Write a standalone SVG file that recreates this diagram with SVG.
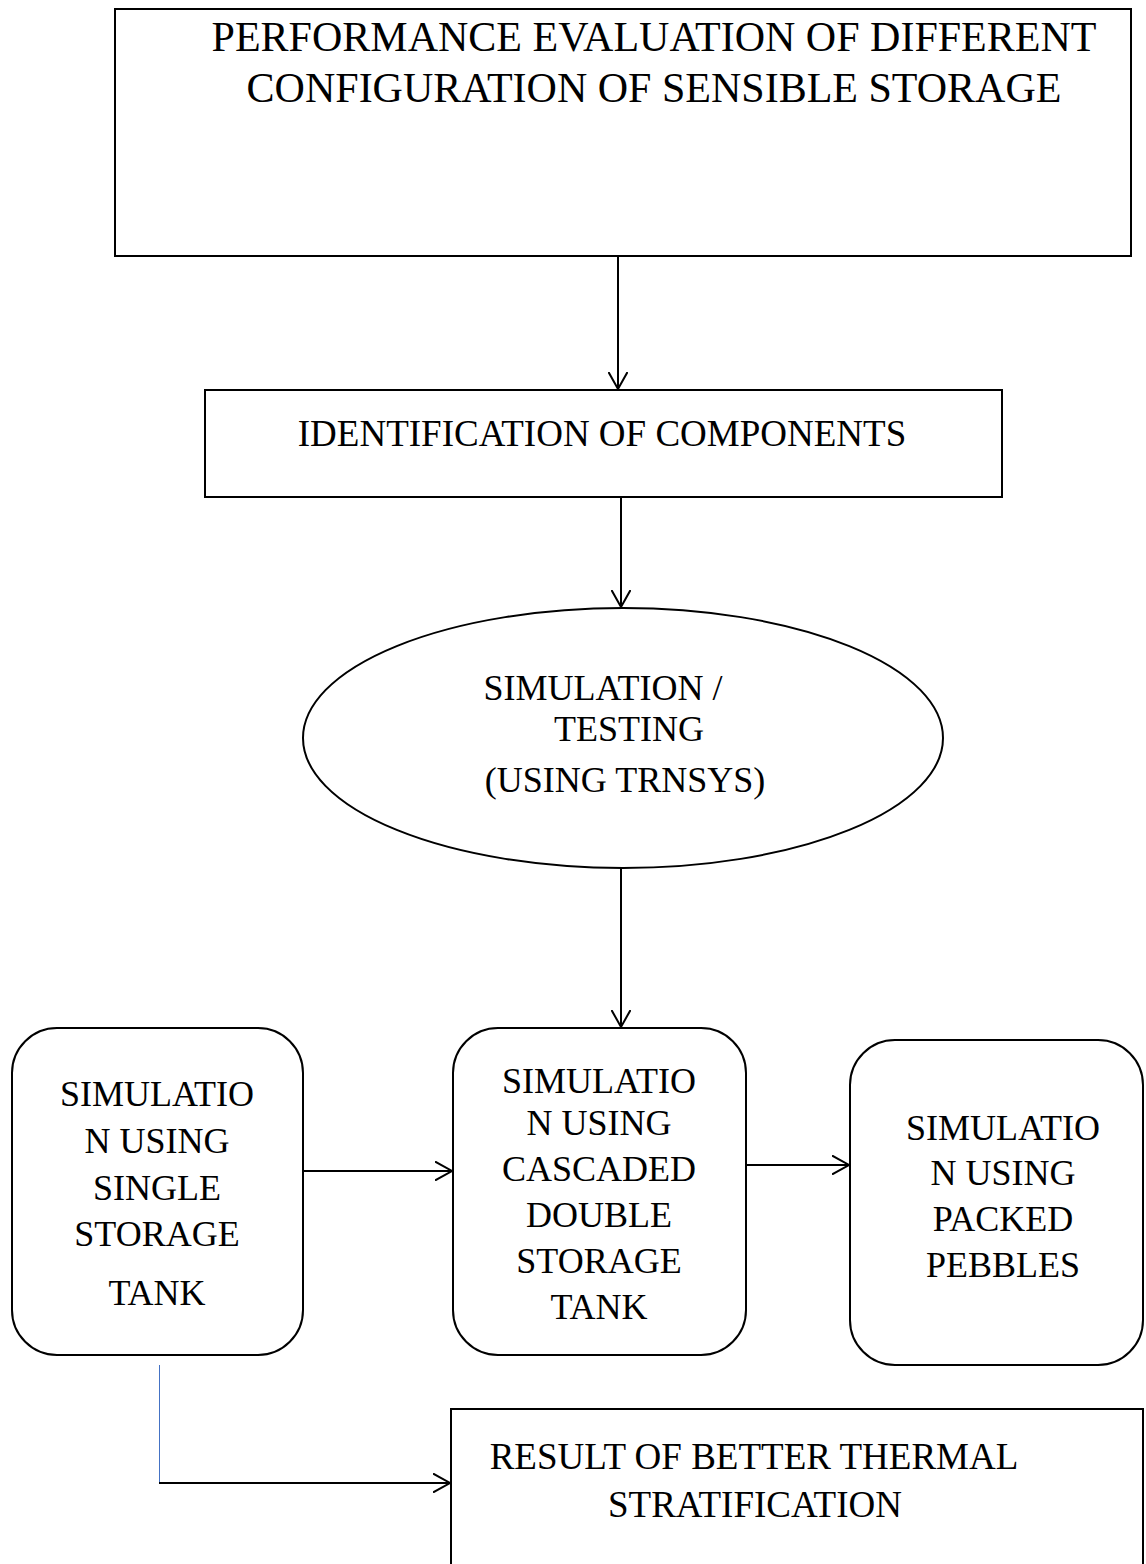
<svg xmlns="http://www.w3.org/2000/svg" width="1146" height="1564" viewBox="0 0 1146 1564">
<style>
.box{fill:#fff;stroke:#000;stroke-width:2}
.t{font-family:"Liberation Serif","Times New Roman",serif;font-size:36px;fill:#000;text-anchor:middle}
.c{fill:none;stroke:#000;stroke-width:2}
</style>
<defs>
<marker id="ah" markerWidth="20" markerHeight="20" refX="17" refY="10" orient="auto" markerUnits="userSpaceOnUse">
<path d="M0,0.5 L17,10 L0,19.5" fill="none" stroke="#000" stroke-width="2"/>
</marker>
</defs>
<rect width="1146" height="1564" fill="#fff"/>
<g id="n1">
<rect class="box" x="115" y="9" width="1016" height="247"/>
<text class="t" style="font-size:42px" x="654" y="51">PERFORMANCE EVALUATION OF DIFFERENT</text>
<text class="t" style="font-size:42px" x="654" y="102">CONFIGURATION OF SENSIBLE STORAGE</text>
</g>
<g id="n2">
<rect class="box" x="205" y="390" width="797" height="107"/>
<text class="t" style="font-size:37px" x="602" y="446">IDENTIFICATION OF COMPONENTS</text>
</g>
<g id="n3">
<ellipse class="box" cx="623" cy="738" rx="320" ry="130"/>
<text class="t" x="603" y="700">SIMULATION /</text>
<text class="t" x="629" y="741">TESTING</text>
<text class="t" x="625" y="792">(USING TRNSYS)</text>
</g>
<g id="n4">
<rect class="box" x="12" y="1028" width="291" height="327" rx="45"/>
<text class="t" x="157" y="1106">SIMULATIO</text>
<text class="t" x="157" y="1153">N USING</text>
<text class="t" x="157" y="1200">SINGLE</text>
<text class="t" x="157" y="1246">STORAGE</text>
<text class="t" x="157" y="1305">TANK</text>
</g>
<g id="n5">
<rect class="box" x="453" y="1028" width="293" height="327" rx="45"/>
<text class="t" x="599" y="1093">SIMULATIO</text>
<text class="t" x="599" y="1135">N USING</text>
<text class="t" x="599" y="1181">CASCADED</text>
<text class="t" x="599" y="1227">DOUBLE</text>
<text class="t" x="599" y="1273">STORAGE</text>
<text class="t" x="599" y="1319">TANK</text>
</g>
<g id="n6">
<rect class="box" x="850" y="1040" width="293" height="325" rx="45"/>
<text class="t" x="1003" y="1140">SIMULATIO</text>
<text class="t" x="1003" y="1185">N USING</text>
<text class="t" x="1003" y="1231">PACKED</text>
<text class="t" x="1003" y="1277">PEBBLES</text>
</g>
<g id="n7">
<rect class="box" x="451" y="1409" width="692" height="170"/>
<text class="t" style="font-size:37px" x="754" y="1469">RESULT OF BETTER THERMAL</text>
<text class="t" style="font-size:37px" x="755" y="1517">STRATIFICATION</text>
</g>
<g id="connectors">
<line class="c" x1="618" y1="256" x2="618" y2="389" marker-end="url(#ah)"/>
<line class="c" x1="621" y1="497" x2="621" y2="607" marker-end="url(#ah)"/>
<line class="c" x1="621" y1="868" x2="621" y2="1027" marker-end="url(#ah)"/>
<line class="c" x1="303" y1="1171" x2="452" y2="1171" marker-end="url(#ah)"/>
<line class="c" x1="746" y1="1165" x2="849" y2="1165" marker-end="url(#ah)"/>
<line x1="159.5" y1="1365" x2="159.5" y2="1483" stroke="#4472C4" stroke-width="1"/>
<line class="c" x1="159" y1="1483" x2="450" y2="1483" marker-end="url(#ah)"/>
</g>
</svg>
